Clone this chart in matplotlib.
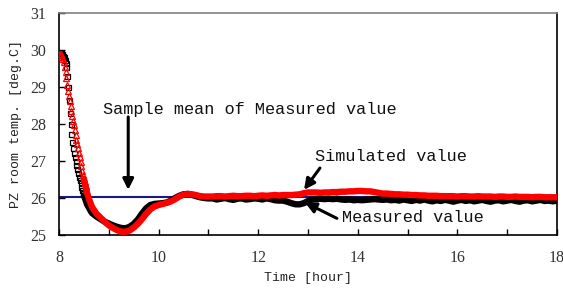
import numpy as np
import matplotlib
matplotlib.use("Agg")
import matplotlib.pyplot as plt

# minutes after 8:00 (1-min samples during the pull-down, then every 5 min)
minutes = list(range(0, 41)) + list(range(45, 601, 5))

measured = [
    29.92, 29.92, 29.91, 29.90, 29.88, 29.85, 29.80, 29.74, 29.66, 29.55,
    29.30, 29.00, 28.65, 28.30, 28.00, 27.72, 27.52, 27.36, 27.22, 27.10,
    26.99, 26.88, 26.78, 26.68, 26.58, 26.49, 26.40, 26.31, 26.22, 26.14,
    26.07, 26.01, 25.95, 25.89, 25.83, 25.78, 25.74, 25.70, 25.66, 25.62,
    25.59,
    25.50, 25.43, 25.36, 25.31, 25.26, 25.22, 25.19, 25.18, 25.22, 25.30,
    25.42, 25.58, 25.72, 25.81, 25.84, 25.85, 25.86, 25.88, 25.93, 26.00,
    26.06, 26.10, 26.11, 26.09, 26.05, 26.02, 26.00, 25.99,
    25.99, 25.96, 25.98, 26.00, 25.97, 25.95, 25.98, 25.99, 25.96, 25.97,
    25.99, 25.98, 25.96, 25.99, 25.97, 25.94, 25.93, 25.93, 25.90, 25.86,
    25.83, 25.83, 25.86, 25.92,
    25.96, 25.97, 25.98, 25.97, 25.98, 25.97, 25.98, 25.96, 25.95, 25.96,
    25.94, 25.95, 25.94, 25.95, 25.96, 25.97, 25.96, 25.95, 25.96, 25.94,
    25.95, 25.93, 25.96, 25.94, 25.92, 25.95, 25.93, 25.96, 25.93, 25.91,
    25.94, 25.92, 25.95, 25.93, 25.90, 25.93, 25.95, 25.92, 25.94, 25.91,
    25.93, 25.95, 25.92, 25.90, 25.93, 25.94, 25.91, 25.93, 25.95, 25.92,
    25.90, 25.93, 25.94, 25.91, 25.93, 25.95, 25.92, 25.93, 25.91, 25.93,
]

simulated = [
    29.90, 29.90, 29.89, 29.86, 29.82, 29.76, 29.67, 29.55, 29.40, 29.23,
    29.06, 28.90, 28.76, 28.62, 28.48, 28.35, 28.22, 28.09, 27.96, 27.83,
    27.70, 27.58, 27.46, 27.34, 27.22, 27.10, 26.98, 26.86, 26.74, 26.63,
    26.52, 26.42, 26.32, 26.22, 26.13, 26.05, 25.98, 25.92, 25.86, 25.80,
    25.75,
    25.58, 25.47, 25.36, 25.26, 25.19, 25.13, 25.09, 25.09, 25.12, 25.20,
    25.30, 25.43, 25.57, 25.69, 25.77, 25.81, 25.84, 25.87, 25.91, 25.97,
    26.04, 26.09, 26.11, 26.10, 26.08, 26.05, 26.04, 26.04,
    26.04, 26.05, 26.05, 26.04, 26.05, 26.06, 26.05, 26.05, 26.06, 26.06,
    26.05, 26.06, 26.07, 26.06, 26.07, 26.08, 26.07, 26.08, 26.08, 26.08,
    26.09, 26.10, 26.13, 26.15,
    26.15, 26.15, 26.14, 26.15, 26.15, 26.16, 26.16, 26.17, 26.17, 26.18,
    26.18, 26.19, 26.19, 26.18, 26.18, 26.16, 26.14, 26.12, 26.12, 26.11,
    26.10, 26.10, 26.09, 26.09, 26.08, 26.08, 26.07, 26.07, 26.06, 26.06,
    26.06, 26.05, 26.05, 26.05, 26.05, 26.04, 26.05, 26.05, 26.04, 26.04,
    26.05, 26.04, 26.04, 26.04, 26.03, 26.04, 26.04, 26.03, 26.03, 26.04,
    26.03, 26.03, 26.03, 26.02, 26.03, 26.03, 26.02, 26.02, 26.02, 26.02,
]

sample_mean = 26.02
x_ticks = [8, 10, 12, 14, 16, 18]
y_ticks = [25, 26, 27, 28, 29, 30, 31]

hours = 8 + np.array(minutes) / 60.0
meas = np.array(measured)
sim = np.array(simulated)

mono = "Liberation Mono"
serif = "Liberation Serif"

fig = plt.figure(figsize=(5.63, 2.89), dpi=100)
ax = fig.add_axes([59 / 563, 54 / 289, 498 / 563, 222 / 289])

ax.plot([8, 18], [sample_mean, sample_mean], color="#1a1a80", lw=1.5, zorder=1)

# open markers during the fast pull-down, a solid band once the samples crowd together
sparse = hours <= 8.55
dense = hours >= 8.5
ax.plot(hours[dense], meas[dense], color="black", lw=4.6, zorder=2, solid_capstyle="round")
ax.plot(hours[sparse], meas[sparse], ls="none", marker="s", ms=3.6, mfc="none",
        mec="black", mew=0.9, zorder=3)

ax.plot(hours[dense], sim[dense], color="red", lw=4.6, zorder=4, solid_capstyle="round")
ax.plot(hours[sparse], sim[sparse], ls="none", marker="^", ms=3.8, mfc="none",
        mec="red", mew=0.9, zorder=5)

ax.set_xlim(8, 18)
ax.set_ylim(25, 31)
ax.set_xticks(x_ticks)
ax.set_xticks(np.arange(8, 19, 1), minor=True)
ax.set_yticks(y_ticks)
ax.tick_params(axis="both", which="both", direction="in", length=4, width=1)
ax.tick_params(axis="x", which="major", pad=11)
ax.tick_params(axis="y", which="major", pad=9)
ax.tick_params(right=False, top=False)
for lab in ax.get_xticklabels() + ax.get_yticklabels():
    lab.set_fontfamily(serif)
    lab.set_fontsize(11.5)
    lab.set_color("#333333")

for side in ["left", "bottom", "right"]:
    ax.spines[side].set_color("black")
    ax.spines[side].set_linewidth(1.2)
ax.spines["top"].set_color("#808080")
ax.spines["top"].set_linewidth(1.2)

ax.set_xlabel("Time [hour]", fontfamily=mono, fontsize=9.5, color="#222222", labelpad=4)
ax.set_ylabel("PZ room temp. [deg.C]", fontfamily=mono, fontsize=9.5, color="#222222", labelpad=6)

arrow = dict(arrowstyle="-|>", color="black", lw=2.2, mutation_scale=16, shrinkA=0, shrinkB=0)

ax.text(8.88, 28.38, "Sample mean of Measured value", fontfamily=mono, fontsize=12.2,
        ha="left", va="center", color="#111111")
ax.annotate("", xy=(9.39, 26.22), xytext=(9.39, 28.19), arrowprops=arrow)

ax.text(13.14, 27.11, "Simulated value", fontfamily=mono, fontsize=12.2,
        ha="left", va="center", color="#111111")
ax.annotate("", xy=(12.92, 26.22), xytext=(13.24, 26.81), arrowprops=arrow)

ax.text(13.68, 25.46, "Measured value", fontfamily=mono, fontsize=12.2,
        ha="left", va="center", color="#111111")
ax.annotate("", xy=(12.94, 25.88), xytext=(13.58, 25.45), arrowprops=arrow)

fig.savefig("out.png", dpi=100)
